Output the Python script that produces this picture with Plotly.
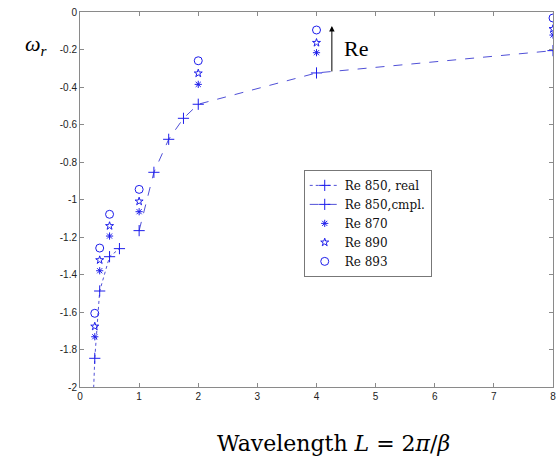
import plotly.graph_objects as go

# Data
re850_real_x = [0.22, 0.25, 0.333, 0.5, 0.667]
re850_real_y = [-2.1, -1.847, -1.488, -1.305, -1.262]

re850_cmpl_x = [1.0, 1.25, 1.5, 1.75, 2.0, 4.0, 8.0]
re850_cmpl_y = [-1.166, -0.855, -0.679, -0.567, -0.492, -0.325, -0.206]

re_x = [0.25, 0.333, 0.5, 1.0, 2.0, 4.0, 8.0]
re870_y = [-1.732, -1.38, -1.195, -1.065, -0.386, -0.217, -0.123]
re890_y = [-1.677, -1.323, -1.141, -1.01, -0.327, -0.164, -0.09]
re893_y = [-1.607, -1.259, -1.079, -0.946, -0.26, -0.096, -0.032]

x_ticks = [0, 1, 2, 3, 4, 5, 6, 7, 8]
y_ticks = [0, -0.2, -0.4, -0.6, -0.8, -1, -1.2, -1.4, -1.6, -1.8, -2]
y_tick_labels = ["0", "-0.2", "-0.4", "-0.6", "-0.8", "-1", "-1.2", "-1.4", "-1.6", "-1.8", "-2"]

blue = "rgb(30,30,235)"
line_blue = "rgb(80,80,215)"

fig = go.Figure()
fig.add_trace(go.Scatter(
    x=re850_real_x, y=re850_real_y, name="Re 850, real", mode="lines+markers",
    line=dict(color=line_blue, width=1, dash="dot"),
    marker=dict(symbol="cross-thin-open", size=8, color=blue, line=dict(color=blue, width=1))))
fig.add_trace(go.Scatter(
    x=re850_cmpl_x, y=re850_cmpl_y, name="Re 850,cmpl.", mode="lines+markers",
    line=dict(color=line_blue, width=1, dash="dash"),
    marker=dict(symbol="cross-thin-open", size=8, color=blue, line=dict(color=blue, width=1))))
fig.add_trace(go.Scatter(
    x=re_x, y=re870_y, name="Re 870", mode="markers",
    marker=dict(symbol="asterisk-open", size=6, color=blue, line=dict(color=blue, width=1))))
fig.add_trace(go.Scatter(
    x=re_x, y=re890_y, name="Re 890", mode="markers",
    marker=dict(symbol="star-open", size=6, color=blue, line=dict(color=blue, width=1))))
fig.add_trace(go.Scatter(
    x=re_x, y=re893_y, name="Re 893", mode="markers",
    marker=dict(symbol="circle-open", size=8, color=blue, line=dict(color=blue, width=1))))

axis_common = dict(
    showgrid=False, zeroline=False, showline=True, linecolor="#8a8a8a", linewidth=1,
    mirror="allticks", ticks="inside", ticklen=4, tickcolor="#8a8a8a",
    ticklabeloverflow="allow",
    tickfont=dict(family="Liberation Sans, Arial, sans-serif", size=10, color="#222"),
)

fig.update_layout(
    width=559, height=459,
    margin=dict(l=80, r=3, t=12, b=72),
    paper_bgcolor="white", plot_bgcolor="white",
    xaxis=dict(range=[0, 8], tickvals=x_ticks, ticktext=[str(v) for v in x_ticks], **axis_common),
    yaxis=dict(range=[-2, 0], tickvals=y_ticks, ticktext=y_tick_labels, **axis_common),
    legend=dict(
        x=0.473, y=0.579, xanchor="left", yanchor="top",
        bgcolor="white", bordercolor="#777", borderwidth=1,
        font=dict(family="DejaVu Serif, serif", size=12, color="#111"),
        itemwidth=30, tracegroupgap=0,
    ),
    showlegend=True,
)

fig.add_annotation(
    x=4.26, y=-0.075, ax=4.26, ay=-0.325, xref="x", yref="y", axref="x", ayref="y",
    showarrow=True, arrowhead=2, arrowsize=1.1, arrowwidth=1, arrowcolor="black", text="")
fig.add_annotation(
    x=4.66, y=-0.197, xref="x", yref="y", text="Re", showarrow=False,
    font=dict(family="Liberation Serif, serif", size=22, color="black"))
fig.add_annotation(
    x=36, y=45, xref="paper", yref="paper", text="<i>ω</i><sub><i>r</i></sub>", showarrow=False,
    xanchor="center", yanchor="middle",
    font=dict(family="Liberation Serif, serif", size=22, color="black"))
fig.add_annotation(
    x=335, y=443, text="Wavelength <i>L</i> = 2<i>π</i>/<i>β</i>", showarrow=False,
    xanchor="center", yanchor="middle",
    font=dict(family="DejaVu Serif, serif", size=22, color="black"))

# convert pixel-placed labels to paper coordinates
plot_l, plot_r, plot_t, plot_b = 80, 556, 12, 387
for ann in fig.layout.annotations[2:]:
    px, py = ann.x, ann.y
    ann.update(xref="paper", yref="paper",
               x=(px - plot_l) / (plot_r - plot_l),
               y=(plot_b - py) / (plot_b - plot_t))

fig.write_html("out.html", config={"displayModeBar": False},
               post_script="document.body.style.margin='0';")
